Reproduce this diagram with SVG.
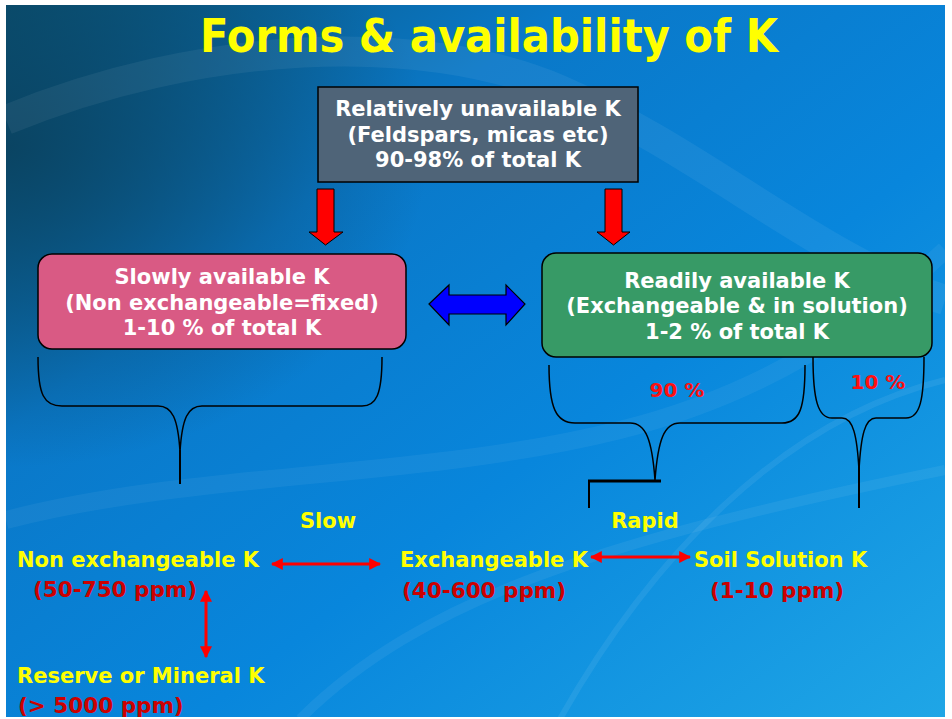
<svg xmlns="http://www.w3.org/2000/svg" width="952" height="719" viewBox="0 0 952 719">
  <defs>
    <linearGradient id="bg" x1="0" y1="0" x2="1" y2="1">
      <stop offset="0" stop-color="#0a5478"/>
      <stop offset="0.3" stop-color="#0a78c8"/>
      <stop offset="0.6" stop-color="#0886dc"/>
      <stop offset="1" stop-color="#1fa6e6"/>
    </linearGradient>
    <radialGradient id="dark" cx="0" cy="0.2" r="0.45">
      <stop offset="0" stop-color="#0a3f5a" stop-opacity="0.85"/>
      <stop offset="1" stop-color="#0a3f5a" stop-opacity="0"/>
    </radialGradient>
    <marker id="rh" viewBox="0 0 10 10" refX="9" refY="5" markerWidth="4" markerHeight="4" orient="auto-start-reverse" markerUnits="strokeWidth">
      <path d="M0,0 L10,5 L0,10 Z" fill="#ff0000"/>
    </marker>
    <style>
      .box { stroke: #000; stroke-width: 1.5; }
      .bt { font-family: "DejaVu Sans", Verdana, sans-serif; font-weight: bold; font-size: 21px; fill: #ffffff; text-anchor: middle; }
      .yl { font-family: "DejaVu Sans", Verdana, sans-serif; font-weight: bold; font-size: 21px; fill: #ffff00; }
      .pp { font-family: "DejaVu Sans", Verdana, sans-serif; font-weight: bold; font-size: 21.5px; fill: #cc0000; }
      .pc { font-family: "DejaVu Sans", Verdana, sans-serif; font-weight: bold; font-size: 20px; fill: #ff1010; text-anchor: middle; }
      .brace { fill: none; stroke: #000; stroke-width: 1.5; }
      .ln { fill: none; stroke: #000; stroke-width: 2; }
      .rarrow { stroke: #ff0000; stroke-width: 3; fill: none; marker-start: url(#rh); marker-end: url(#rh); }
      .down { fill: #ff0000; stroke: #000; stroke-width: 1; }
    </style>
  </defs>

  <rect x="0" y="0" width="952" height="719" fill="#ffffff"/>
  <g id="background">
    <rect x="6" y="5" width="939" height="712" fill="url(#bg)"/>
    <rect x="6" y="5" width="939" height="712" fill="url(#dark)"/>
    <path d="M6,120 C200,40 420,30 560,90 C700,150 820,260 945,300" fill="none" stroke="#ffffff" stroke-opacity="0.06" stroke-width="30"/>
    <path d="M6,520 C200,470 420,480 620,430 C760,395 860,330 945,250" fill="none" stroke="#ffffff" stroke-opacity="0.05" stroke-width="18"/>
    <path d="M300,719 C420,600 600,540 945,470" fill="none" stroke="#ffffff" stroke-opacity="0.06" stroke-width="10"/>
    <path d="M560,719 C650,560 780,420 945,380" fill="none" stroke="#ffffff" stroke-opacity="0.07" stroke-width="6"/>
  </g>

  <g id="title">
    <text x="489" y="52" text-anchor="middle" textLength="578" lengthAdjust="spacingAndGlyphs" font-family="'Comic Sans MS', 'DejaVu Sans', sans-serif" font-weight="bold" font-size="47" fill="#ffff00">Forms &amp; availability of K</text>
  </g>

  <g id="unavailable">
    <rect class="box" x="318" y="87" width="320" height="95" fill="#4f6478"/>
    <text class="bt" x="478" y="116">Relatively unavailable K</text>
    <text class="bt" x="478" y="142">(Feldspars, micas etc)</text>
    <text class="bt" x="478" y="167">90-98% of total K</text>
  </g>

  <g id="slowly">
    <rect class="box" x="38" y="254" width="368" height="95" rx="14" fill="#d95a84"/>
    <text class="bt" x="222" y="284">Slowly available K</text>
    <text class="bt" x="222" y="310">(Non exchangeable=fixed)</text>
    <text class="bt" x="222" y="335">1-10 % of total K</text>
  </g>

  <g id="readily">
    <rect class="box" x="542" y="253" width="390" height="104" rx="14" fill="#379a66"/>
    <text class="bt" x="737" y="288">Readily available K</text>
    <text class="bt" x="737" y="313">(Exchangeable &amp; in solution)</text>
    <text class="bt" x="737" y="339">1-2 % of total K</text>
  </g>

  <g id="connectors">
    <polygon class="down" points="317,189 334,189 334,232 343,232 325.5,245 309,232 317,232"/>
    <polygon class="down" points="605,189 622,189 622,232 630,232 613.5,245 597,232 605,232"/>
    <polygon points="429,304 449,285 449,295 506,295 506,285 525,304 506,325 506,314 449,314 449,325" fill="#0000ff" stroke="#000" stroke-width="1.2"/>

    <path class="brace" d="M38,357 C38,395 44,406 62,406 L158,406 C172,406 178,418 180,452 C182,418 188,406 202,406 L362,406 C376,406 382,395 382,357"/>
    <path class="ln" d="M180,450 L180,484"/>

    <path class="brace" d="M549,365 C549,408 556,423 575,423 L630,423 C646,423 652,440 655,480 C658,440 664,423 680,423 L782,423 C800,423 805,408 805,365"/>
    <path d="M588,481 L661,481" stroke="#000" stroke-width="3"/>
    <path class="ln" d="M589,481 L589,508"/>

    <path class="brace" d="M813,357 C813,400 818,418 832,418 L842,418 C853,418 857,435 859,470 C861,435 865,418 876,418 L906,418 C920,418 924,400 924,357"/>
    <path class="ln" d="M859,466 L859,508"/>

    <path class="rarrow" d="M272,564 L380,564"/>
    <path class="rarrow" d="M591,557 L690,557"/>
    <path class="rarrow" d="M206,591 L206,657"/>
  </g>

  <g id="percent-labels">
    <text class="pc" x="677" y="397">90 %</text>
    <text class="pc" x="878" y="389">10 %</text>
  </g>

  <g id="rate-labels">
    <text class="yl" x="328" y="528" text-anchor="middle">Slow</text>
    <text class="yl" x="645" y="528" text-anchor="middle">Rapid</text>
  </g>

  <g id="non-exchangeable">
    <text class="yl" x="17" y="567">Non exchangeable K</text>
    <text class="pp" x="33" y="597">(50-750 ppm)</text>
  </g>

  <g id="exchangeable">
    <text class="yl" x="400" y="567">Exchangeable K</text>
    <text class="pp" x="402" y="598">(40-600 ppm)</text>
  </g>

  <g id="soil-solution">
    <text class="yl" x="694" y="567">Soil Solution K</text>
    <text class="pp" x="710" y="598">(1-10 ppm)</text>
  </g>

  <g id="reserve">
    <text class="yl" x="17" y="683">Reserve or Mineral K</text>
    <text class="pp" x="18" y="713">(&gt; 5000 ppm)</text>
  </g>
</svg>
